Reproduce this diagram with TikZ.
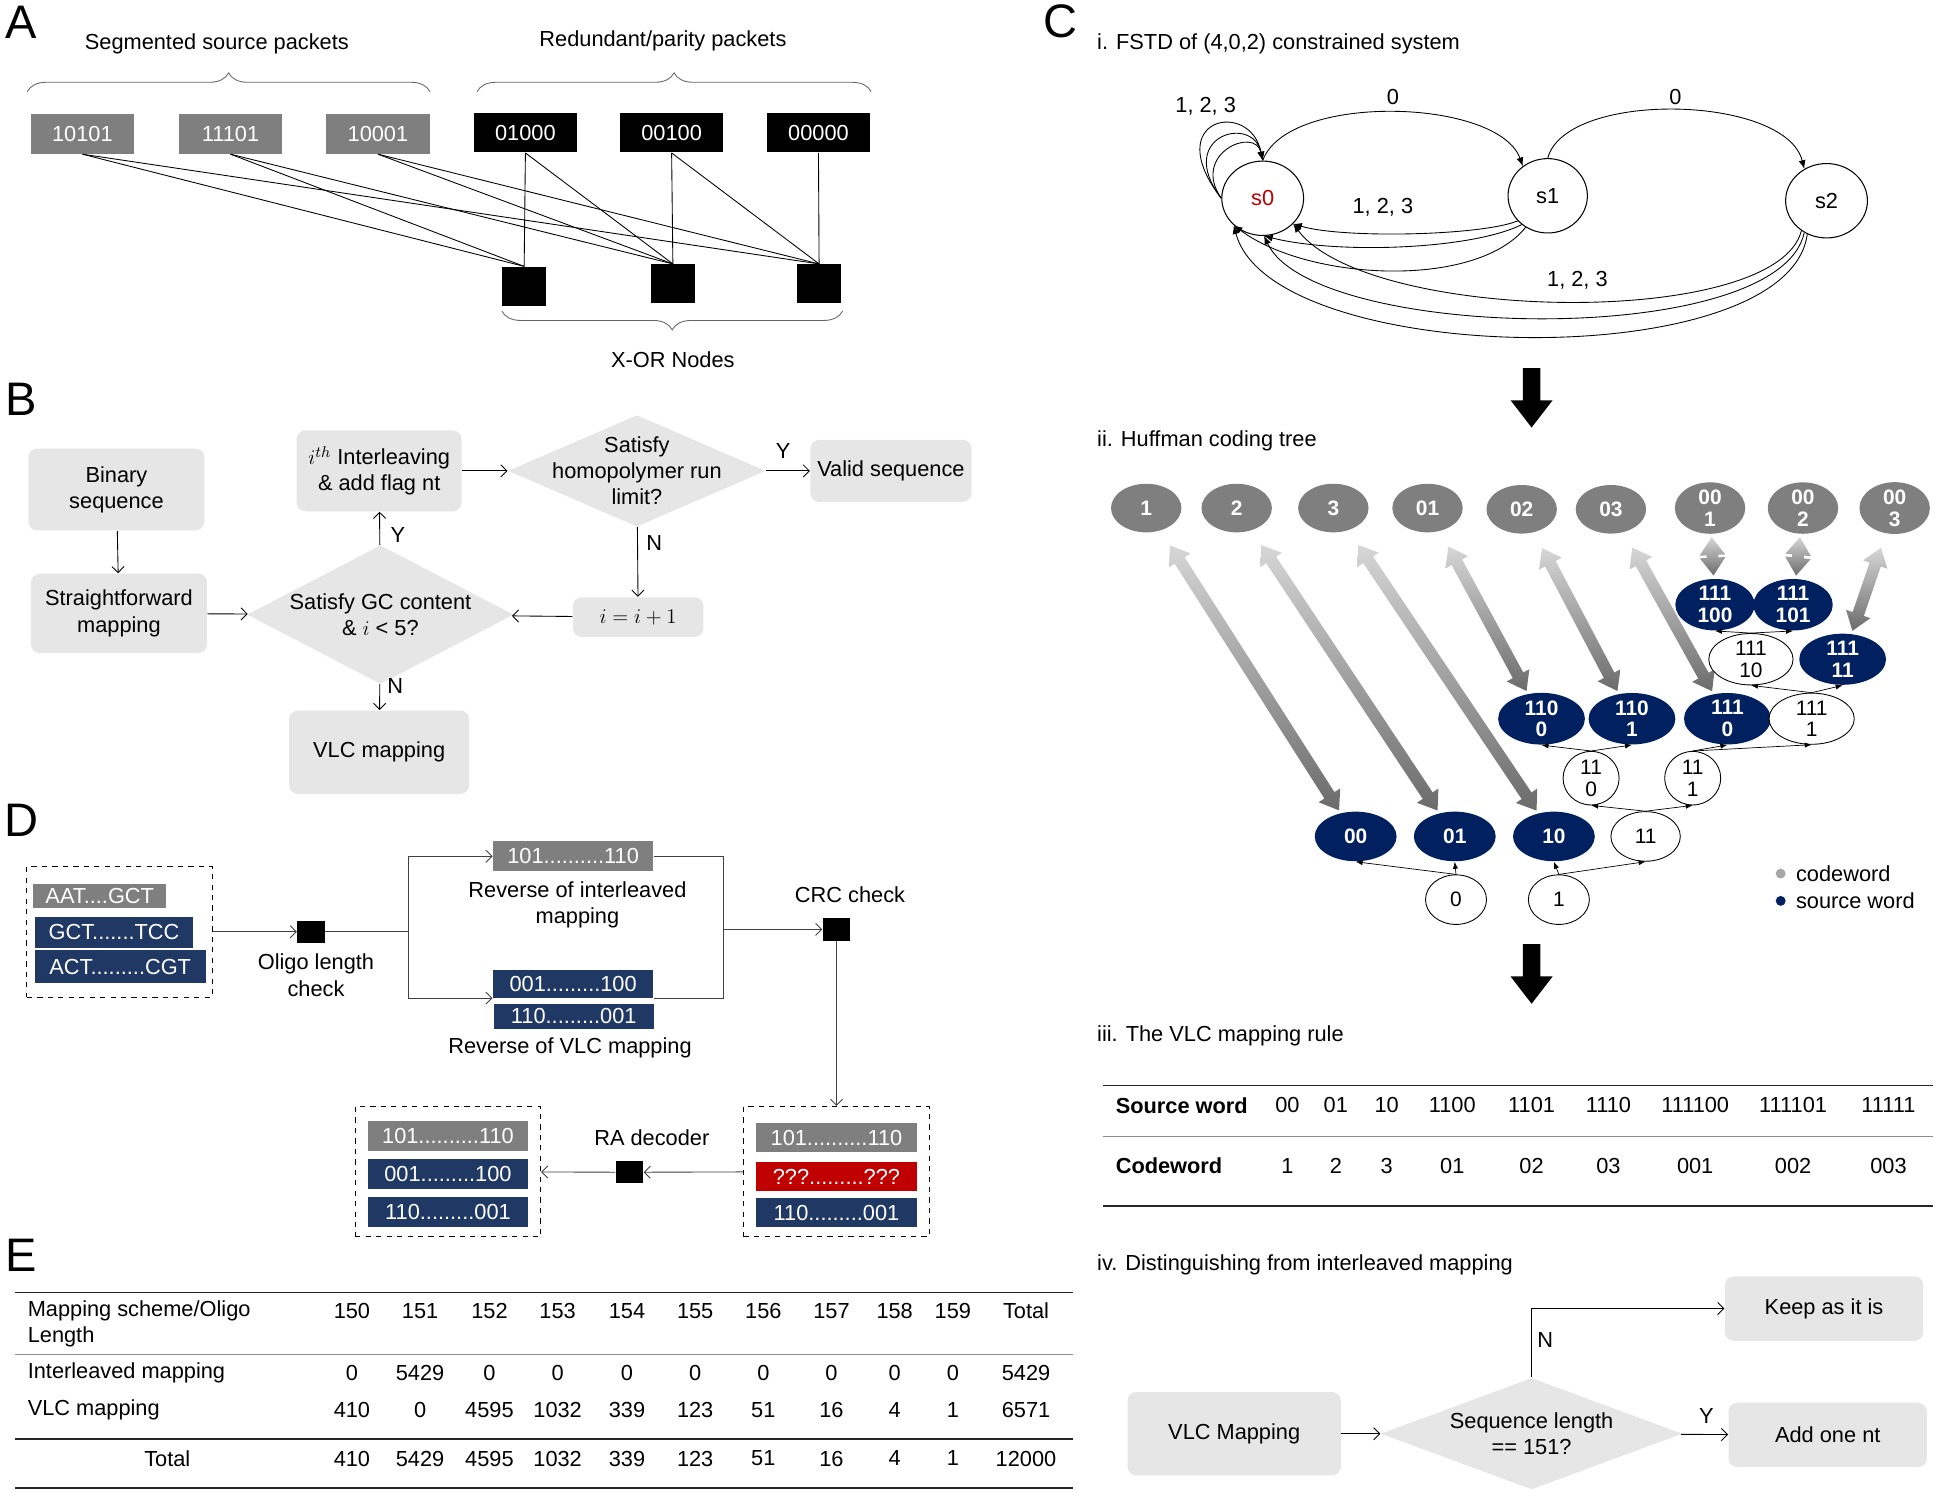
\documentclass[tikz,border=0pt]{standalone}
\usepackage{fontspec}
\setmainfont{Liberation Sans}
\usetikzlibrary{arrows.meta, positioning, shapes.geometric, calc, decorations.pathreplacing, backgrounds}
\definecolor{cgrey}{HTML}{7F7F7F}
\definecolor{clight}{HTML}{E7E6E6}
\definecolor{cnavy}{HTML}{1F3864}
\definecolor{ctree}{HTML}{002060}
\definecolor{cred}{HTML}{C00000}
\tikzset{
  every picture/.style={font=\fontsize{12.5}{15}\selectfont, line width=0.6pt},
  panel/.style={font=\fontsize{27}{30}\selectfont},
  ttl/.style={anchor=west, inner sep=0pt},
  pkt/.style={fill=#1, text=white, inner sep=0pt, minimum width=2.08cm, minimum height=0.8cm},
  xor/.style={fill=black, inner sep=0pt, minimum width=0.9cm, minimum height=0.78cm},
  brc/.style={decorate, decoration={brace, amplitude=0.38cm}, draw=black!60, line width=0.5pt},
  flow/.style={fill=clight, rounded corners=5pt, align=center, inner sep=2pt},
  dia/.style={diamond, fill=clight, inner sep=0pt},
  barb/.style={-{Straight Barb[length=3.5pt, width=7pt]}, line width=0.5pt},
  seq/.style={fill=#1, text=white, inner sep=0pt, minimum width=3.23cm, minimum height=0.6cm},
  chk/.style={fill=black, inner sep=0pt, minimum width=0.55cm, minimum height=0.45cm},
  dbox/.style={draw, dashed, line width=0.6pt, inner sep=0pt, minimum width=3.74cm, minimum height=2.63cm},
  fstate/.style={ellipse, draw, inner sep=0pt, minimum width=1.65cm, minimum height=1.5cm},
  fedge/.style={-{Latex[length=5pt, width=4pt]}, line width=0.5pt},
  cw/.style={ellipse, fill=cgrey, text=white, inner sep=0pt, align=center,
    font=\fontsize{12}{12.5}\selectfont\bfseries, minimum width=1.42cm, minimum height=0.98cm},
  sw/.style={ellipse, fill=ctree, text=white, inner sep=0pt, align=center,
    font=\fontsize{12}{12.5}\selectfont\bfseries, minimum width=1.65cm, minimum height=1cm},
  iw/.style={ellipse, draw, fill=white, inner sep=0pt, align=center, line width=0.5pt,
    font=\fontsize{12}{12.5}\selectfont, minimum width=1.23cm, minimum height=1cm},
  tarrow/.style={-{Latex[length=4pt, width=3pt]}, line width=0.4pt},
  hband/.style={top color=black!16, bottom color=black!58},
  rule/.style={line width=1pt, draw=black!85},
  thinrule/.style={line width=0.5pt, draw=black!45},
}
% codeword <-> source word band
\newcommand{\twoway}[3][0.35cm]{%
  \path (#2) -- (#3) coordinate[pos=0] (ta) coordinate[pos=1] (tb);
  \coordinate (tA) at ($(ta)!#1!(tb)$);
  \coordinate (tB) at ($(tb)!0.06cm!(ta)$);
  \coordinate (tP) at ($(tA)!0.36cm!(tB)$);
  \coordinate (tQ) at ($(tB)!0.36cm!(tA)$);
  \shade[hband] (tA) -- ($(tP)!0.26cm!90:(tB)$) -- ($(tP)!0.12cm!90:(tB)$)
    -- ($(tQ)!0.12cm!-90:(tA)$) -- ($(tQ)!0.26cm!-90:(tA)$) -- (tB)
    -- ($(tQ)!0.26cm!90:(tA)$) -- ($(tQ)!0.12cm!90:(tA)$)
    -- ($(tP)!0.12cm!-90:(tB)$) -- ($(tP)!0.26cm!-90:(tB)$) -- cycle;}

\begin{document}
\begin{tikzpicture}[x=0.025cm, y=-0.025cm]
\useasboundingbox (0,0) rectangle (1568,1203);

% ---------------- A
\node[panel] (pA) at (17,18) {A};
\node (tsrc) at (175,35) {Segmented source packets};
\node (tred) at (535,33) {Redundant/parity packets};
\draw[brc] (22,74) -- (347,74);
\draw[brc] (385,74) -- (703,74);
\node[pkt=cgrey] (g1) at (66.5,108) {10101};
\node[pkt=cgrey] (g2) at (186,108) {11101};
\node[pkt=cgrey] (g3) at (305,108) {10001};
\node[pkt=black] (b1) at (424,107) {01000};
\node[pkt=black] (b2) at (542,107) {00100};
\node[pkt=black] (b3) at (660.5,107) {00000};
\node[xor] (x1) at (423,231) {};
\node[xor] (x2) at (543,229) {};
\node[xor] (x3) at (661,229) {};
\foreach \s/\t in {g1/x1, g1/x3, g2/x1, g2/x2, g3/x2, g3/x3, b1/x1, b1/x2, b2/x2, b2/x3, b3/x3}
  \draw[line width=0.5pt] (\s.south) -- (\t.north);
\draw[brc] (680,251) -- (405,251);
\node (txor) at (543,290) {X-OR Nodes};

% ---------------- B
\node[panel] (pB) at (17,322) {B};
\node[flow, minimum width=3.55cm, minimum height=1.65cm] (bin) at (94,395) {Binary\\sequence};
\node[flow, minimum width=3.55cm, minimum height=1.6cm] (sfm) at (96,495) {Straightforward\\mapping};
\node[flow, minimum width=3.33cm, minimum height=1.63cm] (itl) at (306,380) {$i^{th}$ Interleaving\\\& add flag nt};
\node[dia, minimum width=5.2cm, minimum height=2.25cm] (hpd) at (514,380) {};
\node[align=center] (hpt) at (hpd) {Satisfy\\homopolymer run\\limit?};
\node[flow, minimum width=3.25cm, minimum height=1.25cm] (vld) at (719,380) {Valid sequence};
\node[dia, minimum width=5.38cm, minimum height=2.8cm] (gcd) at (307,496) {};
\node[align=center] (gct) at (gcd) {Satisfy GC content\\\& $i$ < 5?};
\node[flow, minimum width=2.63cm, minimum height=0.8cm] (inc) at (515,498) {$i=i+1$};
\node[flow, minimum width=3.63cm, minimum height=1.68cm] (vlc) at (306,607) {VLC mapping};
\draw[barb] (bin) -- (sfm);
\draw[barb] (sfm) -- (gcd);
\draw[barb] (gcd) -- (itl);
\draw[barb] (itl) -- (hpd);
\draw[barb] (hpd) -- (vld);
\draw[barb] (hpd) -- (inc);
\draw[barb] (inc) -- (gcd);
\draw[barb] (gcd) -- (vlc);
\node (by1) at (321,432) {Y};
\node (by2) at (632,364) {Y};
\node (bn1) at (528,438) {N};
\node (bn2) at (319,554) {N};

% ---------------- D
\node[panel] (pD) at (17,662) {D};
\node[dbox] (db1) at (96.5,752) {};
\node[seq=cgrey, minimum width=2.68cm, minimum height=0.5cm] (q1) at (80.5,723) {AAT....GCT};
\node[seq=cnavy, minimum width=3.2cm, minimum height=0.63cm] (q2) at (92,752.5) {GCT.......TCC};
\node[seq=cnavy, minimum width=3.45cm, minimum height=0.65cm] (q3) at (97,780) {ACT.........CGT};
\node[chk] (olc) at (251,752) {};
\node[align=center] (olct) at (255,787) {Oligo length\\check};
\coordinate (jL) at (330,752);
\node[seq=cgrey] (ri) at (462.5,691) {101..........110};
\node[align=center] (rit) at (466,730) {Reverse of interleaved\\mapping};
\node[seq=cnavy, minimum height=0.55cm] (rv1) at (462.5,794) {001.........100};
\node[seq=cnavy, minimum height=0.5cm] (rv2) at (463,820) {110.........001};
\node (rvt) at (460,846) {Reverse of VLC mapping};
\coordinate (jR) at (584,750);
\node[chk] (crc) at (675,750) {};
\node (crct) at (686,722) {CRC check};
\node[dbox] (db2) at (675,945.5) {};
\node[seq=cgrey] (e1) at (675,918) {101..........110};
\node[seq=cred, minimum height=0.58cm] (e2) at (675,949.5) {???.........???};
\node[seq=cnavy, minimum height=0.58cm] (e3) at (675,978.5) {110.........001};
\node[chk] (rad) at (508,946) {};
\node (radt) at (526,918) {RA decoder};
\node[dbox] (db3) at (361.5,945.5) {};
\node[seq=cgrey] (f1) at (361.5,917) {101..........110};
\node[seq=cnavy, minimum height=0.62cm] (f2) at (361.5,947.5) {001.........100};
\node[seq=cnavy] (f3) at (361.5,978) {110.........001};
\begin{scope}[line width=0.5pt, draw=black!75]
\draw[barb] (db1) -- (olc);
\draw (olc) -- (jL);
\draw[barb] (jL) |- (ri);
\draw[barb] (jL) |- (rv1.south west);
\draw (ri) -| (jR) |- (rv1.south east);
\draw[barb] (jR) -- (crc);
\draw[barb] (crc) -- (db2);
\draw[barb] (db2) -- (rad);
\draw[barb] (rad) -- (db3);
\end{scope}

% ---------------- E
\node[panel] (pE) at (17,1013) {E};
\draw[rule] (12,1043) -- (866,1043);
\draw[thinrule] (12,1093) -- (866,1093);
\draw[rule, line width=1.3pt] (12,1161) -- (866,1161);
\draw[rule] (12,1201) -- (866,1201);
\node[ttl, align=left] (ehd) at (22,1068.5) {Mapping scheme/Oligo\\Length};
\node[ttl] (eil) at (22,1108) {Interleaved mapping};
\node[ttl] (evl) at (22,1138) {VLC mapping};
\node (etl) at (135,1177) {Total};
\foreach \x/\h/\i/\v/\t in {284/150/0/410/410, 339/151/5429/0/5429, 395/152/0/4595/4595,
  450/153/0/1032/1032, 506/154/0/339/339, 561/155/0/123/123, 616/156/0/51/51,
  671/157/0/16/16, 722/158/0/4/4, 769/159/0/1/1, 828/Total/5429/6571/12000} {
  \node (eh\h) at (\x,1058) {\h};
  \node (ei\h) at (\x,1108) {\i};
  \node (ev\h) at (\x,1138) {\v};
  \node (et\h) at (\x,1177) {\t};
}

% ---------------- C
\node[panel] (pC) at (856,17) {C};
\node[ttl] (ci) at (885,35) {i. FSTD of (4,0,2) constrained system};
\node[fstate, text=cred] (s0) at (1019,160) {s0};
\node[fstate, minimum width=1.6cm] (s1) at (1249,158) {s1};
\node[fstate] (s2) at (1474,162) {s2};
\foreach \a/\b/\c/\d in {50/65/10/50, 38/50/8/38, 25/36/6/28}
  \draw[fedge] (s0.west) .. controls +(-\a,-\b) and +(-\c,-\d) .. (s0.north);
\draw[fedge] (s0.north) .. controls +(20,-55) and +(-20,-55) .. (s1.130);
\draw[fedge] (s1.north) .. controls +(15,-55) and +(-15,-60) .. (s2.125);
\draw[fedge] (s1.-140) .. controls +(-30,12) and +(40,12) .. (s0.-40);
\draw[fedge] (s1.-132) .. controls +(-40,20) and +(60,15) .. (s0.-88);
\draw[fedge] (s1.-125) .. controls +(-40,50) and +(60,45) .. (s0.-137);
\draw[fedge] (s2.-130) .. controls +(-20,80) and +(60,80) .. (s0.-40);
\draw[fedge] (s2.-125) .. controls +(-20,95) and +(40,85) .. (s0.-88);
\draw[fedge] (s2.-120) .. controls +(-15,115) and +(30,115) .. (s0.-137);
\node (lself) at (973,86) {1, 2, 3};
\node (l01) at (1124,78) {0};
\node (l12) at (1352,78) {0};
\node (l10) at (1116,167) {1, 2, 3};
\node (l20) at (1273,226) {1, 2, 3};

\fill (1229,297) -- (1243,297) -- (1243,323) -- (1253,323) -- (1236,345) -- (1219,323) -- (1229,323) -- cycle;

\node[ttl] (cii) at (885,356) {ii. Huffman coding tree};
\node[cw] (c1) at (925,410) {1};
\node[cw] (c2) at (998,410) {2};
\node[cw] (c3) at (1076,410) {3};
\node[cw] (c01) at (1152,410) {01};
\node[cw] (c02) at (1228,411) {02};
\node[cw] (c03) at (1300,411) {03};
\node[cw] (c001) at (1380,410) {00\\1};
\node[cw] (c002) at (1455,410) {00\\2};
\node[cw] (c003) at (1529,410) {00\\3};

\node[iw] (n0) at (1175,726) {0};
\node[iw] (n1) at (1258,726) {1};
\node[sw] (s00) at (1094,675) {00};
\node[sw] (s01) at (1174,675) {01};
\node[sw] (s10) at (1254,675) {10};
\node[iw, minimum width=1.4cm] (n11) at (1328,675) {11};
\node[iw, minimum width=1.13cm, minimum height=1.08cm] (n110) at (1284,628) {11\\0};
\node[iw, minimum width=1.13cm, minimum height=1.08cm] (n111) at (1366,628) {11\\1};
\node[sw, minimum width=1.75cm] (s1100) at (1244,580) {110\\0};
\node[sw, minimum width=1.75cm] (s1101) at (1317,580) {110\\1};
\node[sw, minimum width=1.75cm] (s1110) at (1394,580) {111\\0};
\node[iw, minimum width=1.72cm] (n1111) at (1462,580) {111\\1};
\node[iw, minimum width=1.7cm] (n11110) at (1413,532) {111\\10};
\node[sw, minimum width=1.75cm] (s11111) at (1487,532) {111\\11};
\node[sw, minimum width=1.6cm] (s111100) at (1384,488) {111\\100};
\node[sw, minimum width=1.6cm] (s111101) at (1447,488) {111\\101};
\foreach \p/\c in {n0/s00, n0/s01, n1/s10, n1/n11, n11/n110, n11/n111, n110/s1100, n110/s1101,
  n111/s1110, n111/n1111, n1111/n11110, n1111/s11111, n11110/s111100, n11110/s111101}
  \draw[tarrow] (\p.north) -- (\c.south);
\begin{scope}[on background layer]
  \twoway{c1}{s00}
  \twoway{c2}{s01}
  \twoway{c3}{s10}
  \twoway{c01}{s1100}
  \twoway{c02}{s1101}
  \twoway{c03}{s1110}
  \twoway[0.06cm]{c001}{s111100}
  \twoway[0.06cm]{c002}{s111101}
  \twoway[0.3cm]{c003}{s11111}
\end{scope}
\node[circle, fill=black!35, inner sep=0pt, minimum size=0.2cm] (lgc) at (1437,705) {};
\node[ttl] (lgct) at (1449,705) {codeword};
\node[circle, fill=ctree, inner sep=0pt, minimum size=0.2cm] (lgs) at (1437,727) {};
\node[ttl] (lgst) at (1449,727) {source word};

\fill (1229,762) -- (1243,762) -- (1243,788) -- (1253,788) -- (1236,810) -- (1219,788) -- (1229,788) -- cycle;

\node[ttl] (ciii) at (885,836) {iii. The VLC mapping rule};
\draw[rule] (890,876) -- (1560,876);
\draw[thinrule] (890,917) -- (1560,917);
\draw[rule] (890,973) -- (1560,973);
\node[ttl] (tsw) at (900,892) {\bfseries Source word};
\node[ttl] (tcw) at (900,941) {\bfseries Codeword};
\foreach \x/\s/\c in {1039/00/1, 1078/01/2, 1119/10/3, 1172/1100/01, 1236/1101/02,
  1298/1110/03, 1368/111100/001, 1447/111101/002, 1524/11111/003} {
  \node (ts\s) at (\x,892) {\s};
  \node (tc\c) at (\x,941) {\c};
}

\node[ttl] (civ) at (885,1021) {iv. Distinguishing from interleaved mapping};
\node[flow, minimum width=4.3cm, minimum height=1.68cm] (vlm) at (996,1157) {VLC Mapping};
\node[dia, minimum width=6.08cm, minimum height=2.25cm] (sld) at (1236,1157) {};
\node[align=center] (slt) at (sld) {Sequence length\\== 151?};
\node[flow, minimum width=4cm, minimum height=1.3cm] (kai) at (1472,1056) {Keep as it is};
\node[flow, minimum width=4cm, minimum height=1.3cm] (aon) at (1475,1158) {Add one nt};
\draw[barb] (vlm) -- (sld);
\draw[barb] (sld.north) |- (kai.west);
\draw[barb] (sld) -- (aon);
\node (ivn) at (1247,1081) {N};
\node (ivy) at (1377,1143) {Y};
\end{tikzpicture}
\end{document}
